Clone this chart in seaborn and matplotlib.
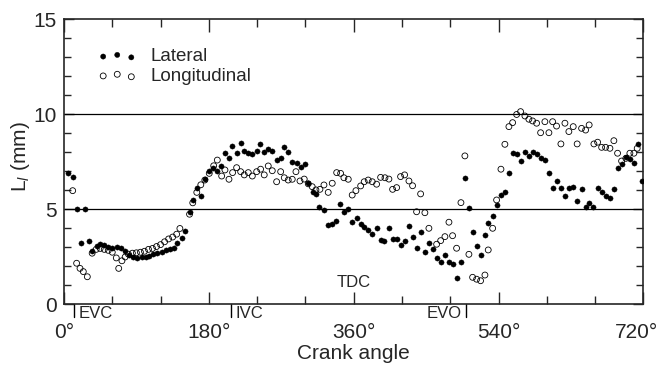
import matplotlib
matplotlib.use("Agg")
import matplotlib.pyplot as plt
import matplotlib.transforms as mtransforms
import seaborn as sns
import numpy as np
import pandas as pd

#---- Data ----------------------------------------------------------------####

lat_angle = [5.4, 11.6, 15.7, 20.7, 26, 31, 35.2, 40.6, 44.7, 50, 55, 60, 65.4, 70.8,
             75.8, 80.7, 86, 91, 96.5, 101.8, 106, 111, 116, 121.3, 126.3, 131.7,
             136.6, 140.8, 146.2, 150.3, 156, 160, 165, 170, 175, 180, 185, 190,
             194.7, 200, 205, 209, 214.5, 219.5, 224, 229, 234, 239.4, 243.5, 248.4,
             253.8, 258.8, 264.2, 269.2, 273.7, 278.6, 283.6, 289, 294.4, 299.4,
             303.5, 308.9, 313, 317.1, 323, 327.6, 332.5, 337.9, 342.9, 347.8, 353.2,
             358.1, 363.6, 368.6, 373, 378, 383, 388.4, 393.4, 397.9, 403.7, 408.3,
             413.3, 418.2, 423.2, 428.6, 433.1, 438.1, 443.1, 448.4, 453, 458, 463,
             468, 473.3, 478.3, 482.8, 487.8, 493.2, 498.1, 503.1, 507.7, 512.7,
             517.6, 523, 527.1, 532.6, 537.5, 542.9, 547.8, 552.8, 557.4, 562.4,
             567.3, 572.7, 577.6, 582.2, 587.2, 592.2, 597.5, 602.5, 607.1, 612,
             617.4, 622.4, 627.3, 632.7, 637.6, 643.1, 648.1, 652.5, 657.5, 663, 668,
             672.9, 678.3, 683.2, 687.8, 692.8, 698.1, 703.1, 708.1, 713.4, 718.4]
lat_value = [6.94, 6.73, 5.02, 3.22, 5.02, 3.36, 2.83, 3.1, 3.18, 3.13, 3.04, 2.96, 3.04,
             2.96, 2.83, 2.6, 2.48, 2.43, 2.48, 2.52, 2.55, 2.66, 2.69, 2.78, 2.87, 2.92,
             2.99, 3.25, 3.48, 3.87, 4.88, 5.5, 6.15, 5.72, 6.6, 7.0, 7.2, 7.05,
             7.29, 7.96, 7.69, 8.36, 7.96, 8.52, 8.1, 7.99, 7.92, 8.1, 8.45, 8.04,
             8.18, 8.08, 7.6, 7.73, 8.27, 8.01, 7.52, 7.43, 7.25, 7.38,
             6.41, 5.94, 5.8, 5.11, 4.97, 4.18, 4.22, 4.39, 5.29, 4.85, 5.03,
             4.33, 4.54, 4.24, 4.1, 3.92, 3.69, 4.01, 3.39, 3.34, 4.01, 3.43,
             3.45, 3.13, 3.34, 4.15, 3.57, 2.96, 3.83, 2.78, 3.25, 2.9, 2.43,
             2.25, 2.6, 2.25, 2.13, 1.38, 2.25, 6.67, 5.06, 3.8, 3.1,
             2.6, 3.66, 4.27, 4.66, 5.24, 5.76, 5.94, 6.9, 7.96, 7.9,
             7.55, 8.01, 7.83, 8.04, 7.9, 7.69, 7.6, 6.9, 6.12, 6.51,
             6.15, 5.71, 6.15, 6.17, 5.45, 6.08, 5.15, 5.33, 5.15, 6.15, 5.94,
             5.73, 5.62, 6.06, 7.17, 7.39, 7.78, 7.66, 7.43, 8.43, 6.51]

lon_angle = [10.8, 15.7, 19.9, 24, 29, 35, 40, 45, 50, 55, 60, 65, 68, 72, 76, 80, 85,
             90, 95, 100, 105, 110, 115, 120, 125, 130, 135, 140, 144, 156, 160, 165,
             170, 175, 180.5, 186, 190.5, 195.9, 200, 205, 209.5, 214.5, 219.5, 224,
             229, 234, 239.4, 244.3, 248.8, 253.8, 258.8, 264.2, 269.2, 273.7, 278.6,
             283.6, 288.2, 293.2, 298.5, 303.5, 308.4, 313, 318, 323, 328.3, 333.3,
             338.8, 343.7, 347.8, 353.2, 358.1, 362.7, 368.6, 373, 378, 383, 388.4,
             393.4, 398.8, 403.7, 408.3, 413.3, 418.2, 423.2, 428.6, 433.1, 438.1,
             443.1, 448.4, 453.4, 463, 468, 473.3, 478.3, 482.8, 487.8, 493.2, 498.1,
             503.1, 507.7, 512.7, 517.6, 523, 527.1, 532.6, 537.5, 542.9, 547.8,
             552.8, 557.4, 562.4, 567.3, 572.7, 577.6, 582.2, 587.2, 592.2, 597.5,
             602.5, 607.1, 612, 617.4, 622.4, 627.3, 632.7, 637.6, 643.1, 648.1,
             652.5, 658.4, 663, 668, 672.9, 678.3, 683.2, 687.8, 692.8, 698.1, 703.1,
             708.1, 712.2]
lon_value = [5.99, 2.17, 1.9, 1.73, 1.46, 2.7, 2.9, 2.95, 2.9, 2.85, 2.75, 2.45, 1.9,
             2.3, 2.5, 2.65, 2.7, 2.72, 2.75, 2.8, 2.9, 2.95, 3.05, 3.15, 3.3, 3.45,
             3.55, 3.7, 4.0, 4.75, 5.35, 5.9, 6.3, 6.55, 6.9, 7.3, 7.6, 6.76, 7.08,
             6.59, 6.94, 7.2, 6.99, 6.82, 6.94, 6.76, 6.99, 7.12, 6.82, 7.29, 7.04,
             6.46, 6.99, 6.67, 6.55, 6.59, 6.99, 6.5, 6.6, 6.35, 6.2, 6.03, 6.06,
             6.29, 5.9, 6.38, 6.94, 6.9, 6.67, 6.59, 5.76, 5.99, 6.24, 6.46, 6.55,
             6.46, 6.33, 6.69, 6.67, 6.6, 6.06, 6.15, 6.73, 6.82, 6.5, 6.25, 4.88,
             5.82, 4.83, 4.01, 3.17, 3.36, 3.57, 4.33, 3.62, 2.96, 5.36, 7.82,
             2.64, 1.43, 1.33, 1.25, 1.55, 2.87, 4.01, 5.5, 7.12, 8.43,
             9.36, 9.57, 10.0, 10.15, 9.92, 9.75, 9.66, 9.54, 9.04, 9.62,
             9.04, 9.62, 9.39, 8.45, 9.54, 9.1, 9.36, 8.45, 9.27, 9.18,
             9.45, 8.45, 8.54, 8.27, 8.27, 8.22, 8.62, 7.96, 7.55, 7.69, 7.96,
             7.96, 8.22]

x_ticks = [0, 180, 360, 540, 720]
x_ticklabels = ["0°", "180°", "360°", "540°", "720°"]
y_ticks = [0, 5, 10, 15]
ref_levels = [5, 10]
events = [("EVC", 13, "right"), ("IVC", 208, "right"), ("EVO", 499, "left")]
tdc_angle = 360

#---- Plot ----------------------------------------------------------------####

sns.set_style("ticks")
plt.rcParams["font.family"] = ["Liberation Sans", "DejaVu Sans"]
plt.rcParams["mathtext.fontset"] = "custom"
plt.rcParams["mathtext.rm"] = "Liberation Sans"
plt.rcParams["mathtext.it"] = "Liberation Sans:italic"

lat = pd.DataFrame({"angle": lat_angle, "value": lat_value})
lon = pd.DataFrame({"angle": lon_angle, "value": lon_value})

fig = plt.figure(figsize=(6.61, 3.68), dpi=100)
ax = fig.add_axes([0.0968, 0.1726, 0.8767, 0.7745])

for y in ref_levels:
    ax.axhline(y, color="black", lw=0.9, zorder=1)

sns.scatterplot(data=lat, x="angle", y="value", ax=ax, s=14, color="black",
                edgecolor="black", linewidth=0.3, label="Lateral", zorder=3)
sns.scatterplot(data=lon, x="angle", y="value", ax=ax, s=18, facecolor="none",
                edgecolor="black", linewidth=0.6, label="Longitudinal", zorder=2)

ax.set_xlim(0, 720)
ax.set_ylim(0, 15)
ax.set_xticks(x_ticks)
ax.set_xticklabels(x_ticklabels)
ax.set_xticks(np.arange(0, 721, 60), minor=True)
ax.set_yticks(y_ticks)
ax.set_yticks(np.arange(0, 16, 1), minor=True)
ax.tick_params(axis="both", which="both", direction="in", top=True, right=True,
               width=1.0, labelsize=15)
ax.tick_params(axis="x", which="major", length=9, pad=13)
ax.tick_params(axis="x", which="minor", length=6)
ax.tick_params(axis="y", which="major", length=7, pad=5)
ax.tick_params(axis="y", which="minor", length=5)
for sp in ax.spines.values():
    sp.set_linewidth(1.2)

# nudge the last x label so it stays inside the figure
last = ax.get_xticklabels()[-1]
last.set_transform(last.get_transform() +
                   mtransforms.ScaledTranslation(-5 / 72, 0, fig.dpi_scale_trans))

ax.set_xlabel("Crank angle", fontsize=15, labelpad=2)
ax.set_ylabel(r"L$_{\mathit{l}}$ (mm)", fontsize=15, labelpad=1)
ax.yaxis.set_label_coords(-0.055, 0.52)

# valve event markers below the axis
trans = mtransforms.blended_transform_factory(ax.transData, ax.transAxes)
for name, ang, side in events:
    ax.plot([ang, ang], [0, -0.045], color="black", lw=1.0, transform=trans, clip_on=False)
    off = 3 if side == "right" else -3
    ax.annotate(name, xy=(ang, -0.005), xycoords=trans, xytext=(off, 0),
                textcoords="offset points", ha="left" if side == "right" else "right",
                va="top", fontsize=12)
ax.text(tdc_angle, 1.15, "TDC", ha="center", va="center", fontsize=12)

leg = ax.legend(loc="upper left", bbox_to_anchor=(0.045, 0.925), frameon=False,
                scatterpoints=3, handlelength=2.1, handletextpad=0.7,
                labelspacing=0.12, fontsize=13.5, borderaxespad=0)

plt.savefig("out.png", dpi=100)
